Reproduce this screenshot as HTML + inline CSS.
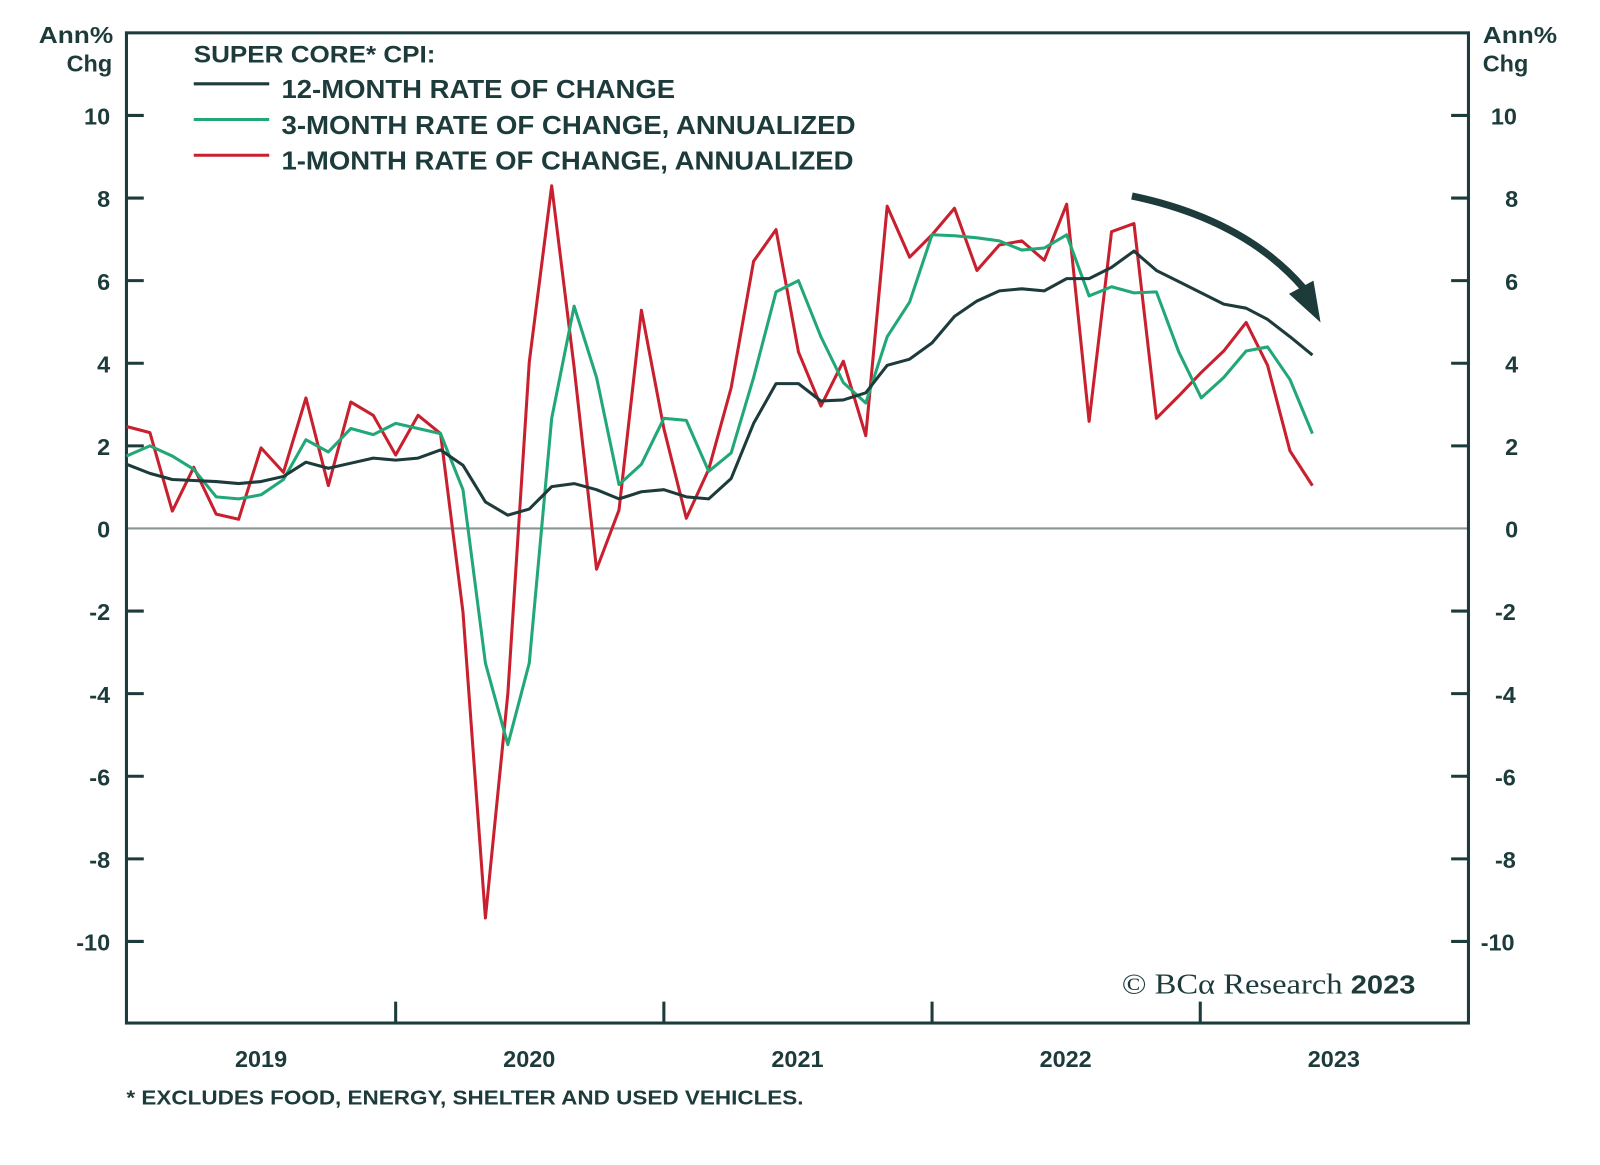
<!DOCTYPE html>
<html><head><meta charset="utf-8"><style>
html,body{margin:0;padding:0;background:#fff;}
svg{display:block;}
text{font-family:"Liberation Sans",sans-serif;font-weight:bold;fill:#1d3b3b;}
</style></head><body>
<svg width="1600" height="1165" viewBox="0 0 1569 1142" xmlns="http://www.w3.org/2000/svg">
<rect width="1569" height="1142" fill="#fff"/>
<line x1="124" y1="518" x2="1440" y2="518" stroke="#8a9494" stroke-width="2"/>
<rect x="124" y="32" width="1316" height="971" fill="none" stroke="#1d3b3b" stroke-width="3"/>
<g stroke="#1d3b3b" stroke-width="3">
<line x1="124" y1="113" x2="141" y2="113"/><line x1="124" y1="194" x2="141" y2="194"/><line x1="124" y1="275" x2="141" y2="275"/><line x1="124" y1="356" x2="141" y2="356"/><line x1="124" y1="437" x2="141" y2="437"/><line x1="124" y1="599" x2="141" y2="599"/><line x1="124" y1="680" x2="141" y2="680"/><line x1="124" y1="761" x2="141" y2="761"/><line x1="124" y1="842" x2="141" y2="842"/><line x1="124" y1="923" x2="141" y2="923"/>
<line x1="1423" y1="113" x2="1440" y2="113"/><line x1="1423" y1="194" x2="1440" y2="194"/><line x1="1423" y1="275" x2="1440" y2="275"/><line x1="1423" y1="356" x2="1440" y2="356"/><line x1="1423" y1="437" x2="1440" y2="437"/><line x1="1423" y1="599" x2="1440" y2="599"/><line x1="1423" y1="680" x2="1440" y2="680"/><line x1="1423" y1="761" x2="1440" y2="761"/><line x1="1423" y1="842" x2="1440" y2="842"/><line x1="1423" y1="923" x2="1440" y2="923"/>
<line x1="388" y1="982" x2="388" y2="1003"/><line x1="651" y1="982" x2="651" y2="1003"/><line x1="914" y1="982" x2="914" y2="1003"/><line x1="1177" y1="982" x2="1177" y2="1003"/>
</g>
<g font-size="23" text-anchor="end">
<text x="111" y="42" textLength="73" lengthAdjust="spacingAndGlyphs">Ann%</text><text x="110" y="70">Chg</text>
<text x="108" y="122">10</text><text x="108" y="203">8</text><text x="108" y="284">6</text><text x="108" y="365">4</text><text x="108" y="446">2</text><text x="108" y="527">0</text><text x="108" y="608">-2</text><text x="108" y="689">-4</text><text x="108" y="770">-6</text><text x="108" y="851">-8</text><text x="108" y="932">-10</text>
</g>
<g font-size="23" text-anchor="start">
<text x="1454" y="42" textLength="73" lengthAdjust="spacingAndGlyphs">Ann%</text><text x="1454" y="70">Chg</text>
<text x="1462" y="122">10</text><text x="1476" y="203">8</text><text x="1476" y="284">6</text><text x="1476" y="365">4</text><text x="1476" y="446">2</text><text x="1476" y="527">0</text><text x="1466" y="608">-2</text><text x="1466" y="689">-4</text><text x="1466" y="770">-6</text><text x="1466" y="851">-8</text><text x="1452" y="932">-10</text>
</g>
<g font-size="23" text-anchor="middle">
<text x="256" y="1046">2019</text><text x="519" y="1046">2020</text><text x="782" y="1046">2021</text><text x="1045" y="1046">2022</text><text x="1308" y="1046">2023</text>
</g>
<text x="124" y="1083" font-size="20" textLength="664" lengthAdjust="spacingAndGlyphs">* EXCLUDES FOOD, ENERGY, SHELTER AND USED VEHICLES.</text>
<text x="190" y="61" font-size="24" textLength="237" lengthAdjust="spacingAndGlyphs">SUPER CORE* CPI:</text>
<line x1="190" y1="82" x2="264" y2="82" stroke="#1d3b3b" stroke-width="3"/>
<line x1="190" y1="117" x2="264" y2="117" stroke="#22a877" stroke-width="3"/>
<line x1="190" y1="152" x2="264" y2="152" stroke="#c8202e" stroke-width="3"/>
<g font-size="25"><text x="276" y="96" textLength="386" lengthAdjust="spacingAndGlyphs">12-MONTH RATE OF CHANGE</text><text x="276" y="131" textLength="563" lengthAdjust="spacingAndGlyphs">3-MONTH RATE OF CHANGE, ANNUALIZED</text><text x="276" y="166" textLength="561" lengthAdjust="spacingAndGlyphs">1-MONTH RATE OF CHANGE, ANNUALIZED</text></g>
<rect x="1094" y="944" width="300" height="36" fill="#fff"/>
<text x="1100" y="974" font-size="28" textLength="288" lengthAdjust="spacingAndGlyphs" style="font-family:'Liberation Serif',serif;font-weight:normal">© BCα Research <tspan style="font-family:'Liberation Sans',sans-serif;font-weight:bold;font-size:25px">2023</tspan></text>
<g fill="none" stroke-width="3" stroke-linejoin="round">
<polyline stroke="#c8202e" points="124,418 147,424 169,501 190,458 212,504 234,509 256,439 278,463 300,390 322,476 344,394 366,407 388,446 410,407 432,425 454,600 476,900 498,680 519,355 541,182 563,360 585,558 607,500 629,304 651,420 673,508 695,460 717,380 739,256 761,225 783,345 805,398 827,354 849,427 870,202 892,252 914,230 936,204 958,265 980,240 1002,236 1024,255 1046,200 1068,413 1090,227 1112,219 1134,410 1156,388 1178,365 1200,344 1222,316 1243,358 1265,442 1287,476"/>
<polyline stroke="#22a877" points="124,447 147,437 169,447 190,460 212,487 234,489 256,485 278,470 300,431 322,443 344,420 366,426 388,415 410,420 432,425 454,480 476,650 498,730 519,650 541,410 563,300 585,370 607,475 629,455 651,410 673,412 695,462 717,444 739,370 761,286 783,275 805,330 827,375 849,395 870,330 892,296 914,230 936,231 958,233 980,236 1002,245 1024,243 1046,230 1068,290 1090,281 1112,287 1134,286 1156,345 1178,390 1200,370 1222,344 1243,340 1265,372 1287,425"/>
<polyline stroke="#1d3b3b" points="124,455 147,464 169,470 190,471 212,472 234,474 256,472 278,467 300,453 322,459 344,454 366,449 388,451 410,449 432,441 454,456 476,492 498,505 519,499 541,477 563,474 585,480 607,489 629,482 651,480 673,487 695,489 717,469 739,415 761,376 783,376 805,393 827,392 849,385 870,358 892,352 914,336 936,310 958,295 980,285 1002,283 1024,285 1046,273 1068,273 1090,262 1112,246 1134,265 1156,276 1178,287 1200,298 1222,302 1243,313 1265,330 1287,348"/>
</g>
<path d="M1110,192 Q1220,215 1278,282" fill="none" stroke="#1d3b3b" stroke-width="7"/>
<polygon points="1264,288 1295,316 1288,275" fill="#1d3b3b"/>
</svg>
</body></html>
